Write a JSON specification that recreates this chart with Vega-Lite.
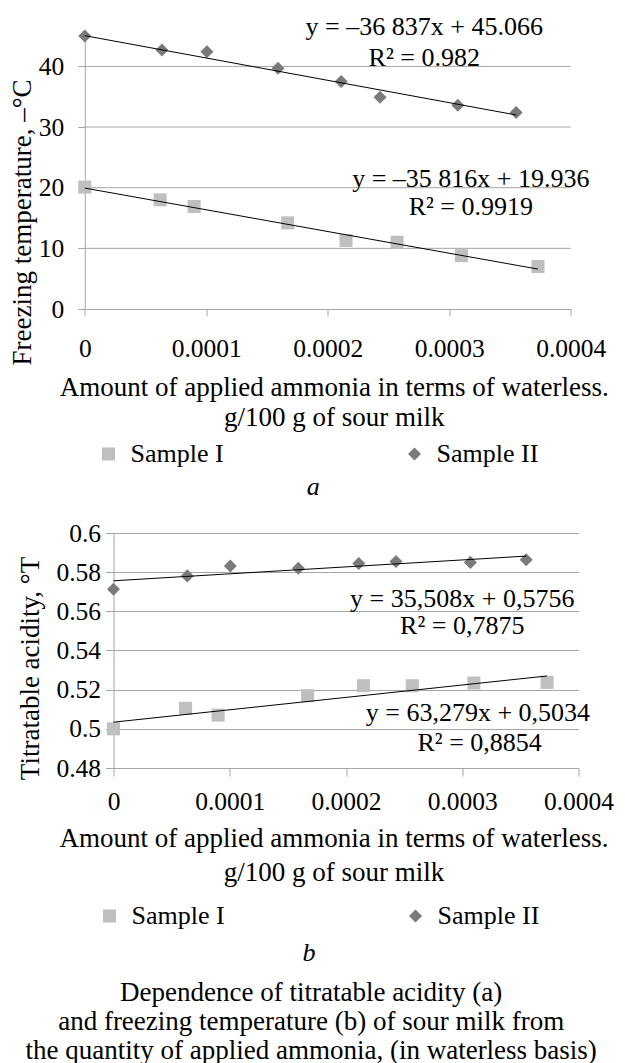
{
  "$schema": "https://vega.github.io/schema/vega-lite/v6.json",
  "padding": {"left": 8.5, "top": 13, "right": 0, "bottom": 0},
  "background": "white",
  "spacing": 21,
  "config": {
    "font": "Liberation Serif",
    "view": {"stroke": null},
    "axis": {
      "labelFont": "Liberation Serif", "titleFont": "Liberation Serif",
      "labelColor": "#000", "titleColor": "#000",
      "labelFontSize": 25.5, "titleFontSize": 27, "titleFontWeight": "normal",
      "gridColor": "#a6a6a6", "domainColor": "#a6a6a6", "tickColor": "#a6a6a6",
      "gridOpacity": 1, "labelFlush": false, "labelOverlap": false
    },
    "legend": {"labelFont": "Liberation Serif", "labelFontSize": 26, "labelColor": "#000"},
    "title": {"font": "Liberation Serif", "fontWeight": "normal", "color": "#000"}
  },
  "datasets": {
    "temp": [
      {"x": 0, "y": 45.0, "sample": "Sample II"},
      {"x": 0.0000635, "y": 42.7, "sample": "Sample II"},
      {"x": 0.0001005, "y": 42.4, "sample": "Sample II"},
      {"x": 0.000159, "y": 39.7, "sample": "Sample II"},
      {"x": 0.000211, "y": 37.5, "sample": "Sample II"},
      {"x": 0.000243, "y": 34.9, "sample": "Sample II"},
      {"x": 0.000307, "y": 33.6, "sample": "Sample II"},
      {"x": 0.000355, "y": 32.4, "sample": "Sample II"},
      {"x": 0, "y": 20.1, "sample": "Sample I"},
      {"x": 0.000062, "y": 18.0, "sample": "Sample I"},
      {"x": 0.00009, "y": 16.9, "sample": "Sample I"},
      {"x": 0.000167, "y": 14.2, "sample": "Sample I"},
      {"x": 0.000215, "y": 11.3, "sample": "Sample I"},
      {"x": 0.000257, "y": 11.0, "sample": "Sample I"},
      {"x": 0.00031, "y": 8.8, "sample": "Sample I"},
      {"x": 0.000373, "y": 7.0, "sample": "Sample I"}
    ],
    "tempGrid": [{"y": 10}, {"y": 20}, {"y": 30}, {"y": 40}],
    "tempTrend": [
      {"x": 0, "y": 45.066, "sample": "Sample II"},
      {"x": 0.000355, "y": 31.99, "sample": "Sample II"},
      {"x": 0, "y": 19.936, "sample": "Sample I"},
      {"x": 0.000373, "y": 6.58, "sample": "Sample I"}
    ],
    "tempEq": [
      {"x": 0.0002794, "y": 46.5, "label": "y = –36 837x + 45.066"},
      {"x": 0.0002794, "y": 41.4, "label": "R² = 0.982"},
      {"x": 0.0003177, "y": 21.45, "label": "y = –35 816x + 19.936"},
      {"x": 0.0003177, "y": 16.83, "label": "R² = 0.9919"}
    ],
    "acid": [
      {"x": 0, "y": 0.5713, "sample": "Sample II"},
      {"x": 0.0000635, "y": 0.5781, "sample": "Sample II"},
      {"x": 0.0001005, "y": 0.5832, "sample": "Sample II"},
      {"x": 0.000159, "y": 0.582, "sample": "Sample II"},
      {"x": 0.000211, "y": 0.5844, "sample": "Sample II"},
      {"x": 0.000243, "y": 0.5855, "sample": "Sample II"},
      {"x": 0.000307, "y": 0.585, "sample": "Sample II"},
      {"x": 0.000355, "y": 0.5863, "sample": "Sample II"},
      {"x": 0, "y": 0.5, "sample": "Sample I"},
      {"x": 0.000062, "y": 0.5105, "sample": "Sample I"},
      {"x": 0.00009, "y": 0.507, "sample": "Sample I"},
      {"x": 0.000167, "y": 0.5169, "sample": "Sample I"},
      {"x": 0.000215, "y": 0.522, "sample": "Sample I"},
      {"x": 0.000257, "y": 0.522, "sample": "Sample I"},
      {"x": 0.00031, "y": 0.5234, "sample": "Sample I"},
      {"x": 0.000373, "y": 0.5237, "sample": "Sample I"}
    ],
    "acidTrend": [
      {"x": 0, "y": 0.5756, "sample": "Sample II"},
      {"x": 0.000355, "y": 0.5882, "sample": "Sample II"},
      {"x": 0, "y": 0.5034, "sample": "Sample I"},
      {"x": 0.000373, "y": 0.527, "sample": "Sample I"}
    ],
    "acidEq": [
      {"x": 0.0003, "y": 0.5662, "label": "y = 35,508x + 0,5756"},
      {"x": 0.0003, "y": 0.5524, "label": "R² = 0,7875"},
      {"x": 0.0003135, "y": 0.5081, "label": "y = 63,279x + 0,5034"},
      {"x": 0.000315, "y": 0.4928, "label": "R² = 0,8854"}
    ]
  },
  "title": {
    "text": ["Dependence of titratable acidity (a)", "and freezing temperature (b) of sour milk from", "the quantity of applied ammonia, (in waterless basis)"],
    "orient": "bottom", "anchor": "middle", "fontSize": 27, "lineHeight": 29,
    "baseline": "alphabetic", "offset": 35
  },
  "resolve": {
    "legend": {"color": "independent", "shape": "independent"},
    "scale": {"color": "independent", "shape": "independent", "x": "independent", "y": "independent"}
  },
  "vconcat": [
    {
      "width": 457.3, "height": 279,
      "title": {"text": "a", "orient": "bottom", "anchor": "middle", "fontStyle": "italic", "fontSize": 26, "baseline": "alphabetic", "offset": 28, "dx": -29},
      "layer": [
        {
          "data": {"name": "tempGrid"},
          "mark": {"type": "rule", "color": "#a6a6a6", "strokeWidth": 1},
          "encoding": {
            "x": {"datum": 0, "type": "quantitative"},
            "x2": {"datum": 0.0004},
            "y": {"field": "y", "type": "quantitative"}
          }
        },
        {
          "data": {"name": "temp"},
          "mark": {"type": "point", "filled": true, "size": 170, "opacity": 1},
          "encoding": {
            "x": {"field": "x", "type": "quantitative",
              "scale": {"domain": [0, 0.0004], "nice": false, "zero": false, "range": [-28.7, 457.3]},
              "axis": {"values": [0, 0.0001, 0.0002, 0.0003, 0.0004], "tickCount": 10, "format": "~g", "grid": false,
                "tickSize": 7, "labelBaseline": "alphabetic", "labelPadding": 40,
                "title": ["Amount of applied ammonia in terms of waterless.", "g/100 g of sour milk"],
                "titleX": 220.3, "titleY": 86, "titleBaseline": "alphabetic", "titleLineHeight": 30, "titleAlign": "center", "titleAnchor": null}},
            "y": {"field": "y", "type": "quantitative",
              "scale": {"domain": [0, 46], "nice": false},
              "axis": {"values": [0, 10, 20, 30, 40], "tickCount": 10, "grid": false, "offset": 28.7, "tickSize": 7, "labelPadding": 14,
                "title": "Freezing temperature, –°C", "titleX": -62, "titleY": 192,
                "titleBaseline": "middle", "titleAlign": "center", "titleAnchor": null}},
            "color": {"field": "sample", "type": "nominal",
              "scale": {"domain": ["Sample I", "Sample II"], "range": ["#bfbfbf", "#7a7a7a"]},
              "legend": {"title": null, "orient": "none", "legendX": -18, "legendY": 411, "direction": "horizontal",
                "columns": 2, "columnPadding": 177, "symbolSize": 170, "labelOffset": 9, "symbolStrokeWidth": 0,
                "labelFontSize": 26}},
            "shape": {"field": "sample", "type": "nominal",
              "scale": {"domain": ["Sample I", "Sample II"], "range": ["square", "diamond"]}}
          }
        },
        {
          "data": {"name": "tempTrend"},
          "mark": {"type": "line", "color": "#000", "strokeWidth": 1},
          "encoding": {
            "x": {"field": "x", "type": "quantitative"},
            "y": {"field": "y", "type": "quantitative"},
            "detail": {"field": "sample", "type": "nominal"}
          }
        },
        {
          "data": {"name": "tempEq"},
          "mark": {"type": "text", "fontSize": 26, "font": "Liberation Serif", "color": "#000", "align": "center", "baseline": "middle"},
          "encoding": {
            "x": {"field": "x", "type": "quantitative"},
            "y": {"field": "y", "type": "quantitative"},
            "text": {"field": "label", "type": "nominal"}
          }
        }
      ]
    },
    {
      "width": 465, "height": 235,
      "title": {"text": "b", "orient": "bottom", "anchor": "middle", "fontStyle": "italic", "fontSize": 26, "baseline": "alphabetic", "offset": 32, "dx": -37},
      "layer": [
        {
          "data": {"name": "acid"},
          "mark": {"type": "point", "filled": true, "size": 170, "opacity": 1},
          "encoding": {
            "x": {"field": "x", "type": "quantitative",
              "scale": {"domain": [0, 0.0004], "nice": false, "zero": false},
              "axis": {"values": [0, 0.0001, 0.0002, 0.0003, 0.0004], "tickCount": 10, "format": "~g", "grid": false,
                "tickSize": 8, "labelBaseline": "alphabetic", "labelPadding": 33,
                "title": ["Amount of applied ammonia in terms of waterless.", "g/100 g of sour milk"],
                "titleX": 220, "titleY": 78.5, "titleBaseline": "alphabetic", "titleLineHeight": 34, "titleAlign": "center", "titleAnchor": null}},
            "y": {"field": "y", "type": "quantitative",
              "scale": {"domain": [0.48, 0.6], "nice": false, "zero": false},
              "axis": {"values": [0.48, 0.5, 0.52, 0.54, 0.56, 0.58, 0.6], "tickCount": 10, "format": "~g", "grid": true, "tickSize": 8, "labelPadding": 5,
                "title": "Titratable acidity, °T", "titleX": -82.7, "titleY": 135,
                "titleBaseline": "middle", "titleAlign": "center", "titleAnchor": null}},
            "color": {"field": "sample", "type": "nominal",
              "scale": {"domain": ["Sample I", "Sample II"], "range": ["#bfbfbf", "#7a7a7a"]},
              "legend": {"title": null, "orient": "none", "legendX": -17, "legendY": 370, "direction": "horizontal",
                "columns": 2, "columnPadding": 177, "symbolSize": 170, "labelOffset": 9, "symbolStrokeWidth": 0,
                "labelFontSize": 26}},
            "shape": {"field": "sample", "type": "nominal",
              "scale": {"domain": ["Sample I", "Sample II"], "range": ["square", "diamond"]}}
          }
        },
        {
          "data": {"name": "acidTrend"},
          "mark": {"type": "line", "color": "#000", "strokeWidth": 1},
          "encoding": {
            "x": {"field": "x", "type": "quantitative"},
            "y": {"field": "y", "type": "quantitative"},
            "detail": {"field": "sample", "type": "nominal"}
          }
        },
        {
          "data": {"name": "acidEq"},
          "mark": {"type": "text", "fontSize": 26, "font": "Liberation Serif", "color": "#000", "align": "center", "baseline": "middle"},
          "encoding": {
            "x": {"field": "x", "type": "quantitative"},
            "y": {"field": "y", "type": "quantitative"},
            "text": {"field": "label", "type": "nominal"}
          }
        }
      ]
    }
  ]
}
